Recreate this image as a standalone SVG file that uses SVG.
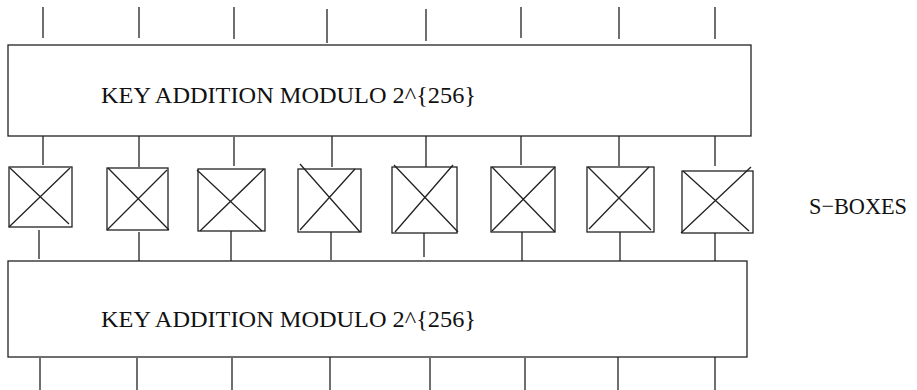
<svg xmlns="http://www.w3.org/2000/svg" width="917" height="390" viewBox="0 0 917 390">
<style>
.ln{stroke:#222;stroke-width:1.3;fill:none}
.bx{stroke:#222;stroke-width:1.3;fill:#fff}
.t{font-family:"Liberation Serif","Times New Roman",serif;font-size:24px;fill:#111}
</style>
<rect width="917" height="390" fill="#fff"/>
<g id="connectors" class="ln">
<path d="M43 7V38M139 7V38M234 7V39M327 9V43M426 9V41M521 7V38M619 7V39M715 7V39"/>
<path d="M43 133V165M139 132V167M234 137V166M332 136V167M426 136V169M521 136V165M619 136V166M715 133V166"/>
<path d="M39 230V259M139 232V262M231 230V261M331 231V260M424 230V257M522 228V263M620 232V263M715 231V262"/>
<path d="M40 358V390M137 358V390M232 358V390M330 356V390M430 358V390M525 358V390M618 355V390M715 356V390"/>
</g>
<g id="key-addition-top">
<rect class="bx" x="8" y="45" width="743" height="91"/>
<text class="t" x="101" y="102.5" textLength="375" lengthAdjust="spacingAndGlyphs">KEY ADDITION MODULO 2^{256}</text>
</g>
<g id="sbox1"><rect class="bx" x="9" y="167" width="63" height="60"/><path class="ln" d="M10 168L69 224M70 168L9 227"/></g>
<g id="sbox2"><rect class="bx" x="107" y="168" width="61" height="62"/><path class="ln" d="M108 168L169 230M167 170L107 230"/></g>
<g id="sbox3"><rect class="bx" x="198" y="169" width="67" height="62"/><path class="ln" d="M197 170L262 231M264 169L200 231"/></g>
<g id="sbox4"><rect class="bx" x="298" y="169" width="63" height="63"/><path class="ln" d="M300 164L360 232M355 169L300 230"/></g>
<g id="sbox5"><rect class="bx" x="392" y="167" width="65" height="66"/><path class="ln" d="M394 165L458 232M453 165L395 232"/></g>
<g id="sbox6"><rect class="bx" x="491" y="167" width="64" height="65"/><path class="ln" d="M492 167L555 232M555 167L492 231"/></g>
<g id="sbox7"><rect class="bx" x="587" y="167" width="67" height="65"/><path class="ln" d="M588 167L651 230M649 167L589 229"/></g>
<g id="sbox8"><rect class="bx" x="682" y="171" width="71" height="62"/><path class="ln" d="M683 171L749 231M751 167L681 233"/></g>
<g id="sboxes-label"><text class="t" x="809" y="214" font-size="23.5" textLength="98" lengthAdjust="spacingAndGlyphs">S−BOXES</text></g>
<g id="key-addition-bottom">
<rect class="bx" x="8" y="261" width="739" height="96"/>
<text class="t" x="101" y="327" textLength="375" lengthAdjust="spacingAndGlyphs">KEY ADDITION MODULO 2^{256}</text>
</g>
</svg>
